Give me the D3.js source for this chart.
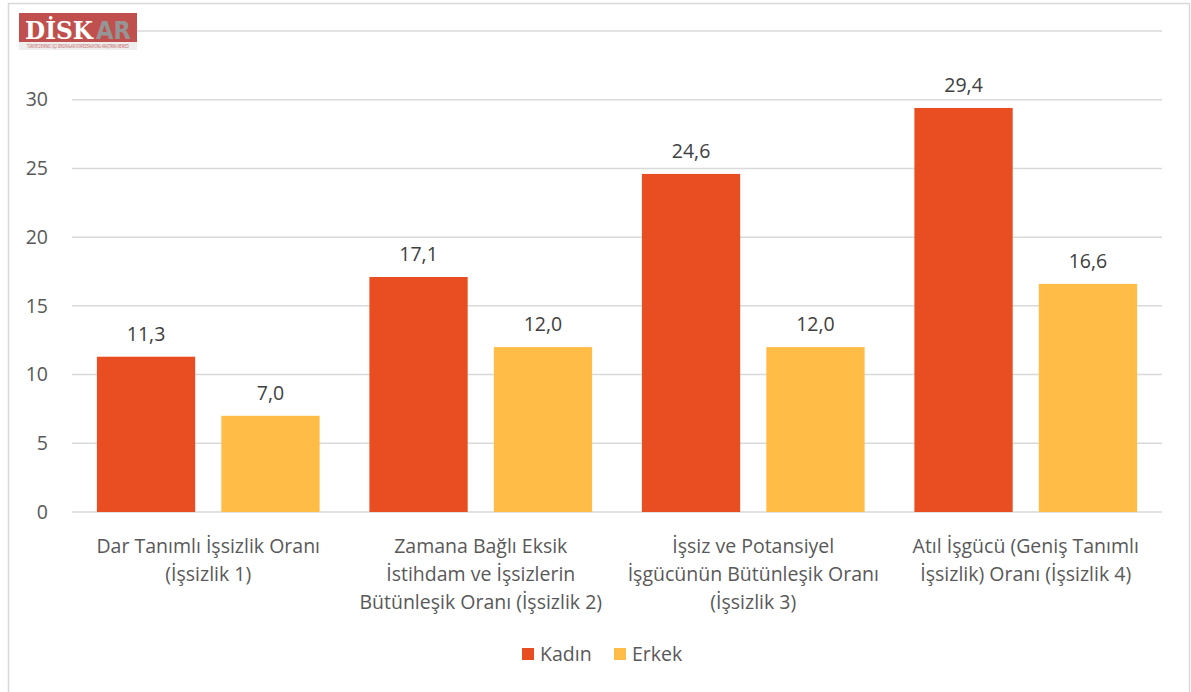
<!DOCTYPE html>
<html>
<head>
<meta charset="utf-8">
<script src="https://cdn.jsdelivr.net/npm/d3@7"></script>
<style>
  body { margin: 0; background: #fff; }
  svg { display: block; font-family: "Open Sans", sans-serif; }
</style>
</head>
<body>
<div id="chart"></div>
<script>
// data
var categories = ["isz1", "isz2", "isz3", "isz4"];
var categoryLines = [
  ["Dar Tanımlı İşsizlik Oranı", "(İşsizlik 1)"],
  ["Zamana Bağlı Eksik", "İstihdam ve İşsizlerin", "Bütünleşik Oranı (İşsizlik 2)"],
  ["İşsiz ve Potansiyel", "İşgücünün Bütünleşik Oranı", "(İşsizlik 3)"],
  ["Atıl İşgücü (Geniş Tanımlı", "İşsizlik) Oranı (İşsizlik 4)"]
];
var seriesNames = ["Kadın", "Erkek"];
var kadin = [11.3, 17.1, 24.6, 29.4];
var erkek = [7.0, 12.0, 12.0, 16.6];
var gridTicks = [0, 5, 10, 15, 20, 25, 30, 35];
var yLabels = [0, 5, 10, 15, 20, 25, 30]; // 35 sits under the logo
var colors = ["#E84E22", "#FFBC47"];

var W = 1191, H = 692;
var margin = {top: 31, right: 29, bottom: 180, left: 72};
var width = W - margin.left - margin.right,
    height = H - margin.top - margin.bottom;
var fs = "19.5px";

var svg = d3.select("#chart").append("svg")
  .attr("width", W).attr("height", H);

// outer frame
svg.append("rect")
  .attr("x", 8.5).attr("y", 3.5)
  .attr("width", 1181).attr("height", 700)
  .attr("fill", "#fff").attr("stroke", "#d9d9d9").attr("stroke-width", 1.5);

var g = svg.append("g")
  .attr("transform", "translate(" + margin.left + "," + margin.top + ")");

var x0 = d3.scaleBand().domain(categories).range([0, width]);
var x1 = d3.scaleBand().domain(seriesNames).range([0, x0.bandwidth()])
  .paddingInner(0.21).paddingOuter(0.2);
var y = d3.scaleLinear().domain([0, 35]).range([height, 0]);

// gridlines
g.selectAll("line.grid").data(gridTicks).enter().append("line")
  .attr("class", "grid")
  .attr("x1", 0).attr("x2", width)
  .attr("y1", function(d) { return y(d); })
  .attr("y2", function(d) { return y(d); })
  .attr("stroke", "#d9d9d9").attr("stroke-width", 1.5);

// y axis labels
var yAxis = g.append("g").attr("transform", "translate(-24,0)")
  .call(d3.axisLeft(y).tickValues(yLabels).tickSize(0).tickPadding(0));
yAxis.select(".domain").remove();
yAxis.selectAll("text")
  .attr("fill", "#595959").style("font-size", fs)
  .style("font-family", "'Open Sans', sans-serif");

var rows = categories.map(function(c, i) {
  return {cat: c, values: [kadin[i], erkek[i]]};
});

var groups = g.selectAll("g.grp").data(rows).enter().append("g")
  .attr("class", "grp")
  .attr("transform", function(d) { return "translate(" + x0(d.cat) + ",0)"; });

groups.selectAll("rect").data(function(d) {
    return d.values.map(function(v, j) { return {name: seriesNames[j], v: v, j: j}; });
  }).enter().append("rect")
  .attr("x", function(d) { return x1(d.name); })
  .attr("width", x1.bandwidth())
  .attr("y", function(d) { return y(d.v); })
  .attr("height", function(d) { return height - y(d.v); })
  .attr("fill", function(d) { return colors[d.j]; });

groups.selectAll("text.val").data(function(d) {
    return d.values.map(function(v, j) { return {name: seriesNames[j], v: v}; });
  }).enter().append("text")
  .attr("class", "val")
  .attr("x", function(d) { return x1(d.name) + x1.bandwidth() / 2; })
  .attr("y", function(d) { return y(d.v) - 16; })
  .attr("text-anchor", "middle")
  .attr("fill", "#404040").style("font-size", fs)
  .text(function(d) { return d3.format(".1f")(d.v).replace(".", ","); });

// category labels
categories.forEach(function(c, i) {
  var t = g.append("text")
    .attr("x", x0(c) + x0.bandwidth() / 2)
    .attr("y", height + 41)
    .attr("text-anchor", "middle")
    .attr("fill", "#595959").style("font-size", fs);
  categoryLines[i].forEach(function(line, k) {
    t.append("tspan")
      .attr("x", x0(c) + x0.bandwidth() / 2)
      .attr("dy", k === 0 ? 0 : 28)
      .text(line);
  });
});

// legend
var legend = svg.append("g").attr("transform", "translate(522,648)");
var lx = [0, 92];
seriesNames.forEach(function(n, i) {
  legend.append("rect").attr("x", lx[i]).attr("y", 0)
    .attr("width", 12).attr("height", 12).attr("fill", colors[i]);
  legend.append("text").attr("x", lx[i] + 18).attr("y", 13)
    .attr("fill", "#595959").style("font-size", fs).text(n);
});

// logo
var logo = svg.append("g").attr("transform", "translate(19,13)");
logo.append("rect").attr("width", 118).attr("height", 37).attr("fill", "#c0504d");
logo.append("rect").attr("y", 29).attr("width", 118).attr("height", 8).attr("fill", "#eeeeee");
logo.append("text").attr("x", 6).attr("y", 26)
  .style("font-family", "'DejaVu Serif', serif").style("font-weight", "bold")
  .style("font-size", "25px").attr("fill", "#fff")
  .attr("textLength", 68).attr("lengthAdjust", "spacingAndGlyphs").text("DİSK");
logo.append("text").attr("x", 77).attr("y", 26)
  .style("font-family", "'DejaVu Sans', sans-serif").style("font-weight", "bold")
  .style("font-size", "25px").attr("fill", "#959595")
  .attr("textLength", 35).attr("lengthAdjust", "spacingAndGlyphs").text("AR");
logo.append("text").attr("x", 8).attr("y", 35)
  .style("font-size", "5px").attr("fill", "#c0504d")
  .attr("textLength", 102).attr("lengthAdjust", "spacingAndGlyphs")
  .text("TÜRKİYE DEVRİMCİ İŞÇİ SENDİKALARI KONFEDERASYONU ARAŞTIRMA MERKEZİ");
</script>
</body>
</html>
